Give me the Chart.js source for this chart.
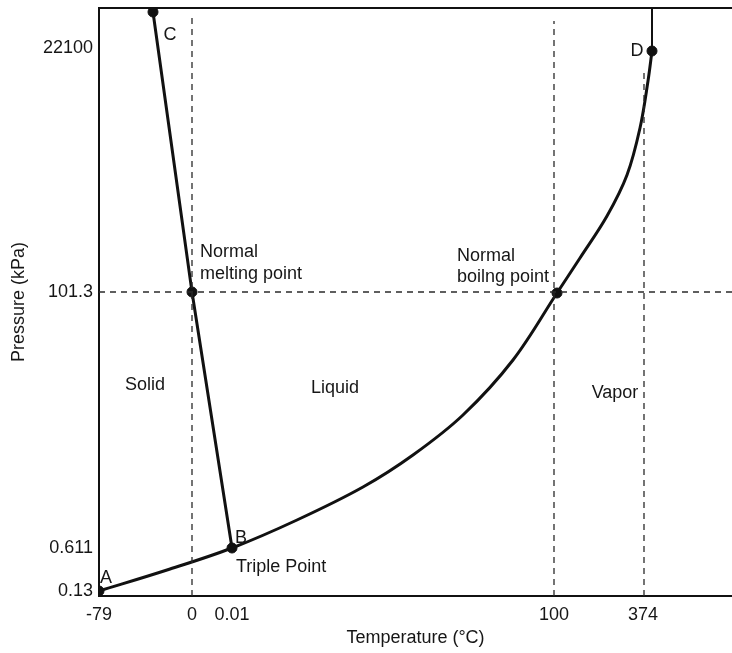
<!DOCTYPE html>
<html>
<head>
<meta charset="utf-8">
<script src="https://cdn.jsdelivr.net/npm/chart.js@4"></script>
<style>
  html, body { margin: 0; padding: 0; background: #fff; overflow: hidden; }
  #wrap { width: 732px; height: 653px; }
</style>
</head>
<body>
<div id="wrap"><canvas id="chart"></canvas></div>
<script>
// schematic diagram: axes are not to scale, so each tick gets a position on the drawing
const tempLabels = ['-79', '0', '0.01', '100', '374'];
const tempPos = [0, 93, 133, 455, 544];
const pressLabels = ['0.13', '0.611', '101.3', '22100'];
const pressPos = [0, 43, 299, 543];

// vapor pressure curve A -> B -> normal boiling point -> D
const vaporX = [0, 68, 133, 198, 264, 314, 364, 414, 458, 481, 508, 528, 541, 549, 553];
const vaporY = [0, 21, 43, 71, 104, 136, 176, 231, 298, 333, 375, 416, 463, 510, 540];

// melting curve B -> normal melting point -> C
const meltX = [133, 93, 54];
const meltY = [43, 299, 579];

// critical point upward
const critX = [553, 553];
const critY = [540, 583];

// labelled points
const keyNames = ['A', 'B', 'Normal melting', 'C', 'Normal boiling', 'D'];
const keyX = [0, 133, 93, 54, 458, 553];
const keyY = [0, 43, 299, 579, 298, 540];

const font = "'Liberation Sans', Arial, sans-serif";
const ink = '#161616';

function pts(xs, ys) {
  return xs.map((x, i) => ({ x: x, y: ys[i] }));
}

function dashed(points) {
  return {
    data: points,
    showLine: true,
    borderColor: '#2a2a2a',
    borderWidth: 1.3,
    borderDash: [6, 5],
    pointRadius: 0,
    tension: 0
  };
}

// text written on the diagram
const notes = [
  { text: 'Solid', x: 46, y: 206, align: 'center' },
  { text: 'Liquid', x: 236, y: 203, align: 'center' },
  { text: 'Vapor', x: 516, y: 198, align: 'center' },
  { text: 'Normal', x: 101, y: 339, align: 'left' },
  { text: 'melting point', x: 101, y: 317, align: 'left' },
  { text: 'Normal', x: 358, y: 335, align: 'left' },
  { text: 'boilng point', x: 358, y: 314, align: 'left' },
  { text: 'Triple Point', x: 137, y: 24, align: 'left' },
  { text: 'A', x: 7, y: 13, align: 'center' },
  { text: 'B', x: 142, y: 53, align: 'center' },
  { text: 'C', x: 71, y: 556, align: 'center' },
  { text: 'D', x: 538, y: 540, align: 'center' }
];

const notesPlugin = {
  id: 'notes',
  afterDatasetsDraw(chart) {
    const c = chart.ctx;
    const xs = chart.scales.x, ys = chart.scales.y;
    c.save();
    c.fillStyle = ink;
    c.font = '18px ' + font;
    c.textBaseline = 'middle';
    notes.forEach(n => {
      c.textAlign = n.align;
      c.fillText(n.text, xs.getPixelForValue(n.x), ys.getPixelForValue(n.y));
    });
    c.restore();
  }
};

function noPad(s) {
  s.paddingLeft = 0;
  s.paddingRight = 0;
  s.paddingTop = 0;
  s.paddingBottom = 0;
}

new Chart(document.getElementById('chart'), {
  type: 'scatter',
  data: {
    datasets: [
      dashed([{ x: 0, y: 299 }, { x: 633, y: 299 }]),
      dashed([{ x: 93, y: -5 }, { x: 93, y: 575 }]),
      dashed([{ x: 455, y: -5 }, { x: 455, y: 570 }]),
      dashed([{ x: 545, y: -5 }, { x: 545, y: 522 }]),
      {
        data: pts(vaporX, vaporY),
        showLine: true,
        borderColor: '#111',
        borderWidth: 3,
        pointRadius: 0,
        tension: 0.35
      },
      {
        data: pts(meltX, meltY),
        showLine: true,
        borderColor: '#111',
        borderWidth: 3,
        pointRadius: 0,
        tension: 0
      },
      {
        data: pts(critX, critY),
        showLine: true,
        borderColor: '#111',
        borderWidth: 2,
        pointRadius: 0
      },
      {
        label: 'points',
        data: pts(keyX, keyY),
        showLine: false,
        pointRadius: 5,
        pointBackgroundColor: '#111',
        pointBorderColor: '#111'
      }
    ]
  },
  options: {
    responsive: true,
    maintainAspectRatio: false,
    animation: false,
    layout: { padding: 0, autoPadding: false },
    plugins: {
      legend: { display: false },
      tooltip: { enabled: false }
    },
    scales: {
      x: {
        type: 'linear',
        position: 'bottom',
        min: 0,
        max: 633,
        afterBuildTicks: (s) => { s.ticks = tempPos.map(v => ({ value: v })); },
        afterFit: (s) => { s.height = 57; noPad(s); },
        grid: { display: false, drawTicks: false },
        border: { display: true, color: '#111', width: 2 },
        ticks: {
          autoSkip: false,
          maxRotation: 0,
          padding: 8,
          color: ink,
          font: { family: font, size: 18 },
          callback: (v, i) => tempLabels[i]
        },
        title: {
          display: true,
          text: 'Temperature (°C)',
          color: ink,
          font: { family: font, size: 18 },
          padding: { top: 0, bottom: 4 }
        }
      },
      x2: {
        type: 'linear',
        position: 'top',
        min: 0,
        max: 633,
        afterFit: (s) => { s.height = 8; noPad(s); },
        grid: { display: false, drawTicks: false },
        border: { display: true, color: '#111', width: 2 },
        ticks: { display: false }
      },
      y: {
        type: 'linear',
        min: -5,
        max: 583,
        afterBuildTicks: (s) => { s.ticks = pressPos.map(v => ({ value: v })); },
        afterFit: (s) => { s.width = 99; noPad(s); },
        grid: { display: false, drawTicks: false },
        border: { display: true, color: '#111', width: 2 },
        ticks: {
          autoSkip: false,
          padding: 6,
          color: ink,
          font: { family: font, size: 18 },
          callback: (v, i) => pressLabels[i]
        },
        title: {
          display: true,
          text: 'Pressure (kPa)',
          color: ink,
          font: { family: font, size: 18 },
          padding: { top: 8, bottom: 0 }
        }
      }
    }
  },
  plugins: [notesPlugin]
});
</script>
</body>
</html>
